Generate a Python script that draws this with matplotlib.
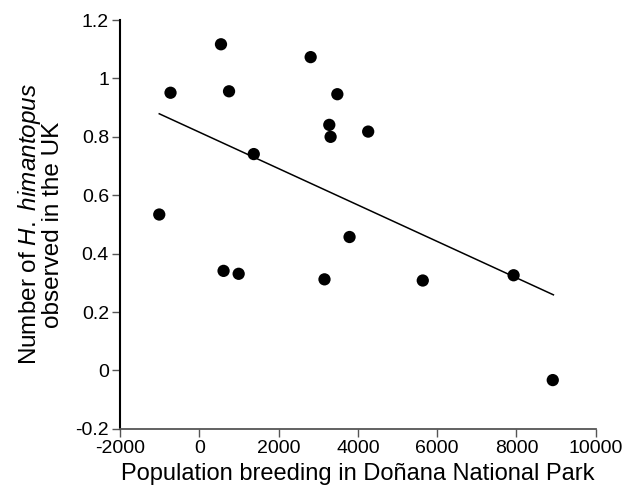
import numpy as np
import matplotlib
matplotlib.use("Agg")
import matplotlib.pyplot as plt

plt.rcParams['font.family'] = ['Liberation Sans', 'DejaVu Sans']
plt.rcParams['mathtext.fontset'] = 'custom'
plt.rcParams['mathtext.rm'] = 'Liberation Sans'
plt.rcParams['mathtext.it'] = 'Liberation Sans:italic'

# breeding pairs in Donana vs birds seen in the UK
pop_donana = [546, 2808, -727, 749, 3481, 3278, 3311, 4259, 1373, -1011,
              3789, 611, 992, 3157, 5636, 7927, 8915]
uk_obs = [1.117, 1.073, 0.951, 0.956, 0.946, 0.841, 0.800, 0.818, 0.741, 0.534,
          0.457, 0.341, 0.331, 0.312, 0.308, 0.326, -0.033]

# regression line end points
fit_x = [-1011, 8931]
fit_y = [0.879, 0.259]

x_ticks = [-2000, 0, 2000, 4000, 6000, 8000, 10000]
y_ticks = [-0.2, 0, 0.2, 0.4, 0.6, 0.8, 1, 1.2]
y_ticklabels = ["-0.2", "0", "0.2", "0.4", "0.6", "0.8", "1", "1.2"]

fig = plt.figure(figsize=(6.42, 5.01), dpi=100)
ax = fig.add_axes([0.187, 0.144, 0.741, 0.816])

ax.plot(fit_x, fit_y, color="black", lw=1.1, zorder=2)
ax.scatter(pop_donana, uk_obs, s=78, color="black", edgecolors="none", zorder=3)

ax.set_xlim(-2000, 10000)
ax.set_ylim(-0.2, 1.2)
ax.set_xticks(x_ticks)
ax.set_xticklabels([str(t) for t in x_ticks])
ax.set_yticks(y_ticks)
ax.set_yticklabels(y_ticklabels)

ax.spines['top'].set_visible(False)
ax.spines['right'].set_visible(False)
ax.spines['left'].set_linewidth(1.5)
ax.spines['left'].set_color("black")
ax.spines['bottom'].set_linewidth(1.3)
ax.spines['bottom'].set_color("#555555")
ax.tick_params(axis='both', direction='out', length=6, width=1.0,
               color="#555555", labelsize=14, labelcolor="black", pad=2)

ax.set_xlabel("Population breeding in Doñana National Park", fontsize=17, labelpad=4)
ax.set_ylabel("Number of $H.\\ himantopus$\nobserved in the UK", fontsize=17.5,
              linespacing=0.95, labelpad=8)

fig.savefig("out.png", dpi=100)
